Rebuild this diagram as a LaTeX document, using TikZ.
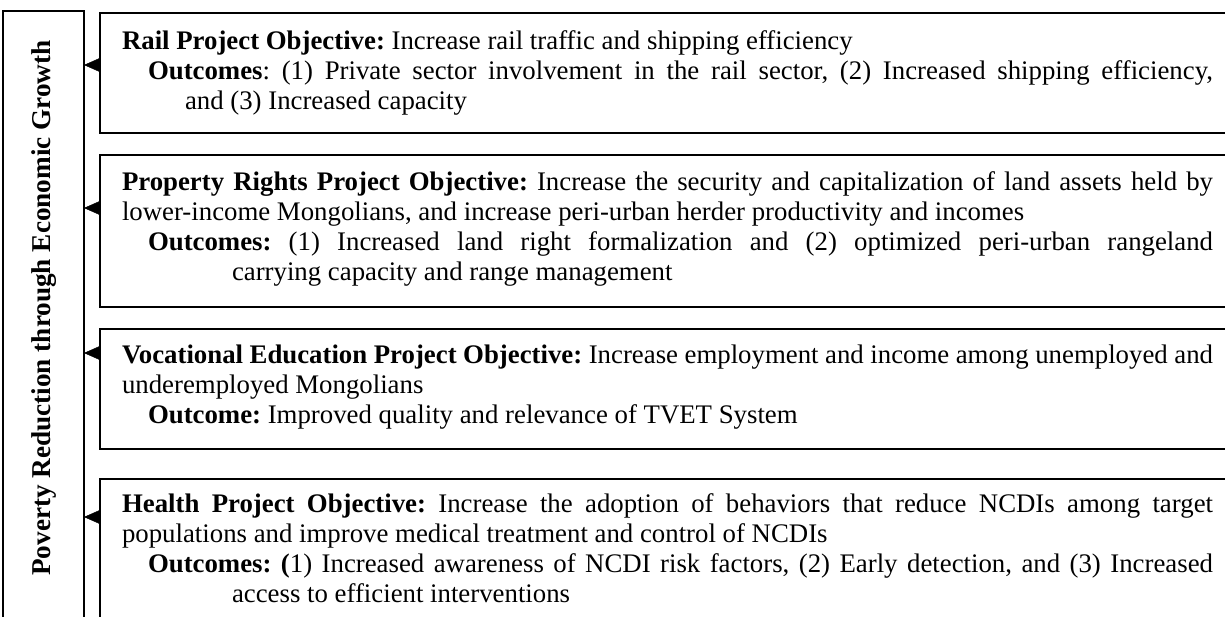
\documentclass[tikz,border=0pt]{standalone}
\usepackage{fontspec}
\setmainfont{Liberation Serif}
\usetikzlibrary{arrows.meta}
\newlength{\px}
\setlength{\px}{0.75pt}
\frenchspacing
% justified line with indent, and ragged line with indent
\newcommand{\JL}[2]{\hspace*{#1}\makebox[\dimexpr1091\px-#1\relax][s]{#2}}
\newcommand{\RL}[2]{\hspace*{#1}#2}
\newcommand{\BodyText}[1]{\parbox[t]{1091\px}{\setlength{\parindent}{0pt}\raggedright #1}}
\tikzset{
  frame/.style={draw, line width=1.5pt, outer sep=0pt, inner sep=0pt, anchor=north west},
  body/.style={inner sep=0pt, outer sep=0pt, anchor=base west,
    font=\fontsize{20.1pt}{22.5pt}\selectfont},
  link/.style={line width=0.3pt, -{Triangle[length=12pt, width=10.5pt]}},
}
\begin{document}
\begin{tikzpicture}[x=\px, y=-\px]
\useasboundingbox (0,0) rectangle (1225,617);
\clip (0,0) rectangle (1225,617);
\fill[white] (0,0) rectangle (1225,617);

% left goal box
\node[frame, minimum width=81\px, minimum height=640\px] (goal) at (3,11) {};
\node[rotate=90, inner sep=0pt, font=\fontsize{20.4pt}{22.5pt}\selectfont\bfseries] (goaltext) at (44,308) {Poverty Reduction through Economic Growth};

% project boxes
\node[frame, minimum width=1140\px, minimum height=120\px] (rail) at (100,13) {};
\node[frame, minimum width=1140\px, minimum height=152\px] (prop) at (100,155) {};
\node[frame, minimum width=1140\px, minimum height=120\px] (voc) at (100,329) {};
\node[frame, minimum width=1140\px, minimum height=160\px] (health) at (100,479) {};

% texts
\node[body] (railtext) at (122,50) {\BodyText{%
\RL{0pt}{\textbf{Rail Project Objective:} Increase rail traffic and shipping efficiency}\\
\JL{26\px}{\textbf{Outcomes}: (1) Private sector involvement in the rail sector, (2) Increased shipping efficiency,}\\
\RL{63\px}{and (3) Increased capacity}}};

\node[body] (proptext) at (122,190) {\BodyText{%
\JL{0pt}{\textbf{Property Rights Project Objective:} Increase the security and capitalization of land assets held by}\\
\RL{0pt}{lower-income Mongolians, and increase peri-urban herder productivity and incomes}\\
\JL{26\px}{\textbf{Outcomes:} (1) Increased land right formalization and (2) optimized peri-urban rangeland}\\
\RL{110\px}{carrying capacity and range management}}};

\node[body] (voctext) at (122,363) {\BodyText{%
\JL{0pt}{\textbf{Vocational Education Project Objective:} Increase employment and income among unemployed and}\\
\RL{0pt}{underemployed Mongolians}\\
\RL{26\px}{\textbf{Outcome:} Improved quality and relevance of TVET System}}};

\node[body] (healthtext) at (122,512) {\BodyText{%
\JL{0pt}{\textbf{Health Project Objective:} Increase the adoption of behaviors that reduce NCDIs among target}\\
\RL{0pt}{populations and improve medical treatment and control of NCDIs}\\
\JL{26\px}{\textbf{Outcomes: (}1) Increased awareness of NCDI risk factors, (2) Early detection, and (3) Increased}\\
\RL{110\px}{access to efficient interventions}}};

% connectors
\coordinate (a1) at (0,65);
\coordinate (a2) at (0,208);
\coordinate (a3) at (0,353);
\coordinate (a4) at (0,517);
\draw[link] (rail.west |- a1) -- (goal.east |- a1);
\draw[link] (prop.west |- a2) -- (goal.east |- a2);
\draw[link] (voc.west |- a3) -- (goal.east |- a3);
\draw[link] (health.west |- a4) -- (goal.east |- a4);
\end{tikzpicture}
\end{document}
